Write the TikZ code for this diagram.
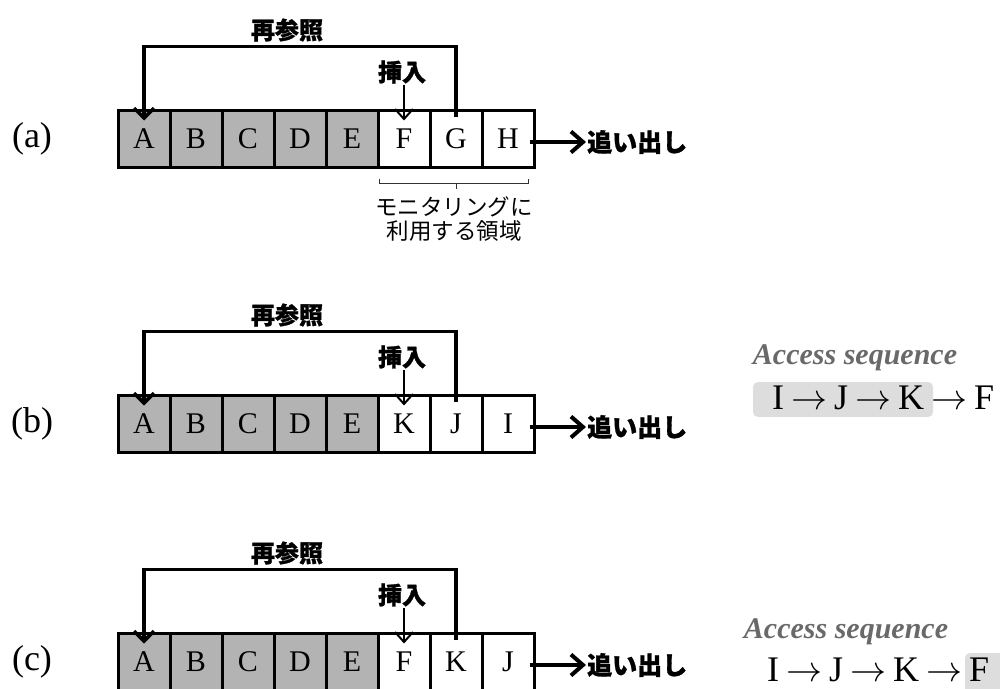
\documentclass[tikz,border=0pt]{standalone}
\usepackage{fix-cm}
\usepackage{fontspec}
\setmainfont{Liberation Serif}
\newfontfamily\cjk{Noto Sans CJK JP}
\newfontfamily\cjkh[BoldFeatures={FakeBold=1.2}]{Noto Sans CJK JP}
\usetikzlibrary{arrows.meta,calc}
\definecolor{cellgray}{HTML}{B3B3B3}
\definecolor{hlgray}{HTML}{DDDDDD}
\definecolor{accgray}{HTML}{696969}
\newcommand{\ra}{\hspace{7pt}$\rightarrow$\hspace{7pt}}
\begin{document}
\begin{tikzpicture}[x=1pt,y=-1pt,
  cell/.style={draw, line width=3pt, minimum width=52pt, minimum height=57pt, inner sep=0pt, font=\fontsize{30}{30}\selectfont},
  old/.style={cell, fill=cellgray},
  new/.style={cell, fill=white},
  lab/.style={inner sep=0pt, font=\fontsize{36}{36}\selectfont},
  jbold/.style={inner sep=1pt, font=\cjkh\bfseries\fontsize{24}{24}\selectfont},
  jev/.style={inner sep=1pt, font=\cjkh\bfseries\fontsize{25}{25}\selectfont},
  jnorm/.style={inner sep=0pt, font=\cjk\fontsize{22.5}{23.5}\selectfont, align=center},
  reref/.style={line width=3.5pt, -{Straight Barb[length=10pt,width=20pt]}},
  ins/.style={line width=2pt, -{Straight Barb[length=10pt,width=18pt]}},
  ev/.style={line width=4pt, -{Straight Barb[length=12pt,width=21pt]}},
  acc/.style={inner sep=0pt, text=accgray, font=\bfseries\itshape\fontsize{30}{30}\selectfont},
  seq/.style={inner sep=0pt, anchor=west, font=\fontsize{36}{36}\selectfont},
  hl/.style={fill=hlgray, rounded corners=5pt}
]
\useasboundingbox (0,0) rectangle (1000,688);
\clip (0,0) rectangle (1000,688);

\foreach \r/\y/\six/\sev/\eig in {a/138.5/F/G/H, b/423.5/K/J/I, c/661.5/F/K/J} {
  \node[lab] (lab\r) at (32,\y) {(\r)};
  \foreach \t [count=\i] in {A,B,C,D,E}
    \node[old] (\r\i) at ({92+52*\i},\y) {\t};
  \node[new] (\r6) at (404,\y) {\six};
  \node[new] (\r7) at (456,\y) {\sev};
  \node[new] (\r8) at (508,\y) {\eig};
  \node[jbold] (ref\r) at (287,\y-108.5) {再参照};
  \node[jbold] (ins\r) at (402,\y-66.5) {挿入};
  \node[jev, anchor=west] (ev\r) at (586,\y+3.5) {追い出し};
  \draw[reref] ([yshift=-8pt]\r7.north) -- ++(0,-70) -| ([yshift=-12pt]\r1.north);
  \draw[ins] (ins\r.south -| \r6.north) -- ([yshift=-12pt]\r6.north);
  \draw[ev] ([xshift=-6pt,yshift=-3.5pt]\r8.east) -- (ev\r.west);
}

% monitoring region bracket
\coordinate (brL) at ([xshift=3pt,yshift=-10pt]a6.south west);
\coordinate (brR) at ([xshift=-7pt,yshift=-10pt]a8.south east);
\draw[line width=1pt, black!80] (brL) -- ++(0,5) -- ($(brR)+(0,5)$) -- (brR);
\draw[line width=1pt, black!80] ([yshift=-15pt]a7.south) -- ++(0,5);
\node[jnorm] (mon) at (454,219) {モニタリングに\\利用する領域};

% access sequences
\fill[hl] (753,382) rectangle (933,417);
\node[acc] (accb) at (855,358) {Access sequence};
\node[seq] (seqb) at (772,398) {I\ra J\ra K\ra F};

\fill[hl] (965,653) rectangle (1006,694);
\node[acc] (accc) at (846,632) {Access sequence};
\node[seq] (seqc) at (767,670) {I\ra J\ra K\ra F};
\end{tikzpicture}
\end{document}
